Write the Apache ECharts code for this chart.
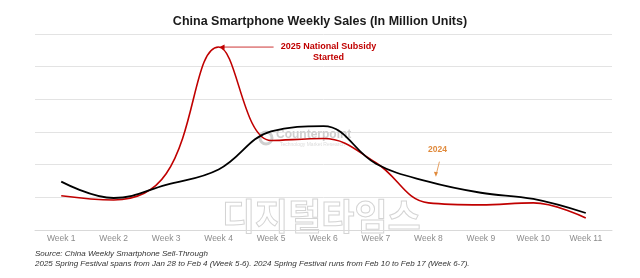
<!DOCTYPE html>
<html lang="en">
    <head>
        <meta charset="UTF-8">
        <title>China Smartphone Weekly Sales</title>
        <script src="https://cdn.jsdelivr.net/npm/echarts@6/dist/echarts.min.js"></script>
        <style>
            html, body {
                margin: 0;
                height: 100%;
                background: #fff;
            }
        </style>
    </head>
    <body>
        <div id="main" style="width: 640px;height: 278px"></div>
    </body>
</html>
<script>
    // 数据
    var weeks = ['Week 1', 'Week 2', 'Week 3', 'Week 4', 'Week 5', 'Week 6', 'Week 7', 'Week 8', 'Week 9', 'Week 10', 'Week 11'];
    var sales2024 = [1.48, 0.98, 1.38, 1.85, 3.02, 3.18, 2.03, 1.48, 1.14, 0.95, 0.52];
    var sales2025 = [1.05, 0.92, 1.72, 5.6, 2.74, 2.8, 2.06, 0.83, 0.77, 0.83, 0.37];

    var font = 'Liberation Sans, Arial, sans-serif';
    var myChart = echarts.init(document.getElementById('main'));

    var option = {
        animation: false,
        title: {
            text: 'China Smartphone Weekly Sales (In Million Units)',
            left: 'center',
            top: 10,
            textStyle: {fontFamily: font, fontSize: 12.5, fontWeight: 'bold', color: '#1a1a1a'}
        },
        grid: {left: 35, right: 28, top: 34, bottom: 48},
        xAxis: {
            type: 'category',
            data: weeks,
            boundaryGap: true,
            axisLine: {lineStyle: {color: '#d9d9d9'}},
            axisTick: {show: false},
            axisLabel: {color: '#8c8c8c', fontFamily: font, fontSize: 8.5, margin: 4}
        },
        yAxis: {
            type: 'value',
            min: 0,
            max: 6,
            interval: 1,
            axisLabel: {show: false},
            splitLine: {lineStyle: {color: '#e3e3e3'}}
        },
        series: [
            {
                name: '2024',
                type: 'line',
                data: sales2024,
                smooth: 0.4,
                symbol: 'none',
                z: 3,
                lineStyle: {color: '#000', width: 1.8}
            },
            {
                name: '2025',
                type: 'line',
                data: sales2025,
                smooth: 0.4,
                symbol: 'none',
                z: 2,
                lineStyle: {color: '#c00000', width: 1.6}
            }
        ]
    };
    myChart.setOption(option);

    // 注释和水印
    var peak = myChart.convertToPixel({seriesIndex: 1}, [3, sales2025[3]]);
    var p2024 = myChart.convertToPixel({seriesIndex: 0}, [7, sales2024[7]]);

    myChart.setOption({
        graphic: [
            {
                type: 'line',
                shape: {x1: peak[0] + 3, y1: peak[1], x2: peak[0] + 55, y2: peak[1]},
                style: {stroke: '#c00000', lineWidth: 0.8}
            },
            {
                type: 'polygon',
                shape: {points: [[peak[0] + 1, peak[1]], [peak[0] + 6, peak[1] - 2.5], [peak[0] + 6, peak[1] + 2.5]]},
                style: {fill: '#c00000'}
            },
            {
                type: 'text',
                x: peak[0] + 110, y: peak[1] - 6,
                style: {
                    text: '2025 National Subsidy\nStarted',
                    align: 'center',
                    fill: '#c00000',
                    font: 'bold 9px ' + font,
                    lineHeight: 11
                }
            },
            {
                type: 'text',
                x: p2024[0] + 9, y: p2024[1] - 36,
                style: {text: '2024', align: 'center', fill: '#e08a3c', font: 'bold 8.5px ' + font}
            },
            {
                type: 'line',
                shape: {x1: p2024[0] + 11, y1: p2024[1] - 20, x2: p2024[0] + 8, y2: p2024[1] - 8},
                style: {stroke: '#e08a3c', lineWidth: 0.8}
            },
            {
                type: 'polygon',
                shape: {points: [[p2024[0] + 7.5, p2024[1] - 5], [p2024[0] + 5.5, p2024[1] - 10], [p2024[0] + 9.5, p2024[1] - 9.5]]},
                style: {fill: '#e08a3c'}
            },
            {
                type: 'circle',
                shape: {cx: 266, cy: 138, r: 6},
                style: {fill: 'none', stroke: '#cfcfcf', lineWidth: 3}
            },
            {
                type: 'text',
                x: 276, y: 129,
                style: {text: 'Counterpoint', fill: '#cfcfcf', font: 'bold 12px ' + font}
            },
            {
                type: 'text',
                x: 280, y: 142,
                style: {text: 'Technology Market Research', fill: '#dcdcdc', font: '5px ' + font}
            },
            {
                type: 'text',
                x: 222, y: 198,
                z: -1,
                style: {
                    text: '디지털타임스',
                    fill: 'rgba(255,255,255,0)',
                    stroke: '#d4d4d4',
                    lineWidth: 1,
                    font: 'bold 36px "Noto Sans CJK KR"'
                }
            },
            {
                type: 'text',
                x: 35, y: 249,
                style: {
                    text: 'Source: China Weekly Smartphone Sell-Through\n2025 Spring Festival spans from Jan 28 to Feb 4 (Week 5-6). 2024 Spring Festival runs from Feb 10 to Feb 17 (Week 6-7).',
                    fill: '#333',
                    font: 'italic 8px ' + font,
                    lineHeight: 10
                }
            }
        ]
    });
</script>
